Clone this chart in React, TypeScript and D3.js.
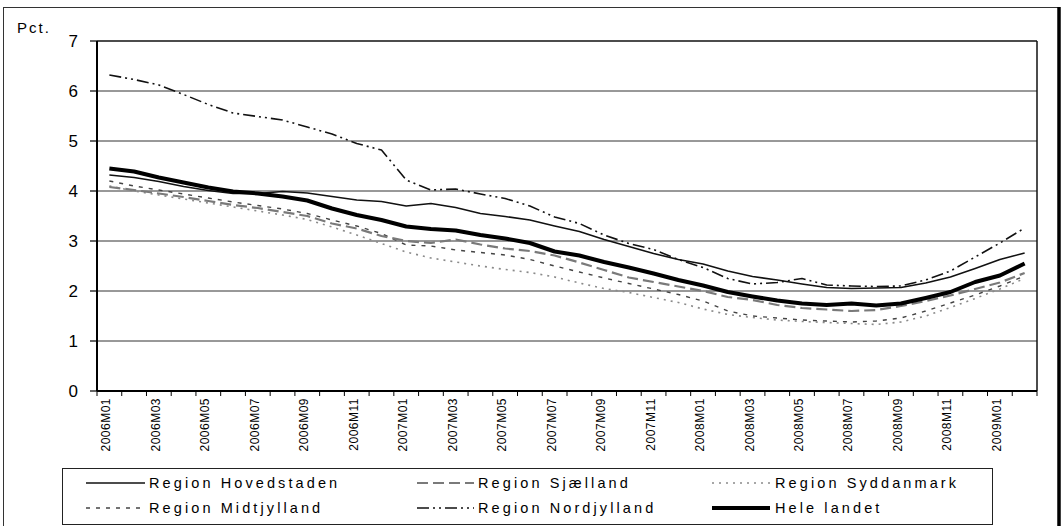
import * as d3 from "d3";

const WIDTH = 1064;
const HEIGHT = 526;
const PLOT = { left: 97, right: 1037, top: 41, bottom: 391 };

const MONTHS = [
  "2006M01", "2006M02", "2006M03", "2006M04", "2006M05", "2006M06",
  "2006M07", "2006M08", "2006M09", "2006M10", "2006M11", "2006M12",
  "2007M01", "2007M02", "2007M03", "2007M04", "2007M05", "2007M06",
  "2007M07", "2007M08", "2007M09", "2007M10", "2007M11", "2007M12",
  "2008M01", "2008M02", "2008M03", "2008M04", "2008M05", "2008M06",
  "2008M07", "2008M08", "2008M09", "2008M10", "2008M11", "2008M12",
  "2009M01", "2009M02",
];

const Y_TICKS = [0, 1, 2, 3, 4, 5, 6, 7];

const HOVEDSTADEN = [
  4.32, 4.27, 4.19, 4.09, 4.01, 3.95, 3.95, 3.99, 3.96, 3.89,
  3.82, 3.79, 3.70, 3.75, 3.67, 3.55, 3.49, 3.42, 3.30, 3.19,
  3.03, 2.89, 2.75, 2.63, 2.54, 2.40, 2.29, 2.22, 2.14, 2.07,
  2.05, 2.06, 2.07, 2.16, 2.28, 2.45, 2.63, 2.76,
];
const SJAELLAND = [
  4.08, 4.02, 3.95, 3.88, 3.80, 3.72, 3.66, 3.58, 3.50, 3.35,
  3.25, 3.10, 3.00, 2.96, 3.03, 2.93, 2.85, 2.80, 2.71, 2.57,
  2.42, 2.27, 2.18, 2.09, 2.00, 1.88, 1.82, 1.72, 1.66, 1.63,
  1.60, 1.62, 1.70, 1.80, 1.91, 2.04, 2.17, 2.36,
];
const SYDDANMARK = [
  4.10, 4.00, 3.92, 3.84, 3.76, 3.68, 3.60, 3.52, 3.43, 3.28,
  3.12, 2.95, 2.78, 2.66, 2.58, 2.50, 2.43, 2.37, 2.28, 2.16,
  2.05, 1.97, 1.87, 1.77, 1.64, 1.53, 1.47, 1.42, 1.39, 1.37,
  1.35, 1.33, 1.38, 1.50, 1.67, 1.85, 2.04, 2.25,
];
const MIDTJYLLAND = [
  4.20, 4.10, 4.02, 3.94, 3.86, 3.78, 3.71, 3.64, 3.55, 3.42,
  3.30, 3.15, 2.92, 2.90, 2.82, 2.77, 2.72, 2.63, 2.50, 2.38,
  2.26, 2.15, 2.04, 1.93, 1.80, 1.60, 1.50, 1.46, 1.42, 1.40,
  1.38, 1.40, 1.46, 1.60, 1.76, 1.92, 2.10, 2.30,
];
const NORDJYLLAND = [
  6.32, 6.23, 6.12, 5.93, 5.73, 5.56, 5.49, 5.42, 5.28, 5.14,
  4.95, 4.82, 4.22, 4.02, 4.04, 3.94, 3.85, 3.70, 3.48, 3.35,
  3.12, 2.95, 2.83, 2.63, 2.47, 2.25, 2.14, 2.17, 2.25, 2.12,
  2.10, 2.09, 2.10, 2.22, 2.40, 2.68, 2.96, 3.26,
];
const HELE_LANDET = [
  4.45, 4.39, 4.27, 4.17, 4.07, 3.99, 3.95, 3.89, 3.81, 3.65,
  3.52, 3.42, 3.29, 3.24, 3.21, 3.12, 3.05, 2.96, 2.79, 2.71,
  2.58, 2.47, 2.35, 2.22, 2.11, 1.98, 1.89, 1.81, 1.75, 1.72,
  1.75, 1.71, 1.75, 1.86, 1.98, 2.18, 2.31, 2.55,
];

type Style = { stroke: string; width: number; dash?: string };

const SERIES: { name: string; values: number[]; style: Style }[] = [
  { name: "Region Syddanmark", values: SYDDANMARK, style: { stroke: "#8a8a8a", width: 1.6, dash: "2,5" } },
  { name: "Region Midtjylland", values: MIDTJYLLAND, style: { stroke: "#444", width: 1.4, dash: "4,6" } },
  { name: "Region Sjælland", values: SJAELLAND, style: { stroke: "#7a7a7a", width: 2.2, dash: "11,5" } },
  { name: "Region Nordjylland", values: NORDJYLLAND, style: { stroke: "#111", width: 1.6, dash: "12,4,2,4,2,4" } },
  { name: "Region Hovedstaden", values: HOVEDSTADEN, style: { stroke: "#111", width: 1.6 } },
  { name: "Hele landet", values: HELE_LANDET, style: { stroke: "#000", width: 4 } },
];

// legend layout: [name, column, row]
const LEGEND_ORDER: [string, number, number][] = [
  ["Region Hovedstaden", 0, 0],
  ["Region Sjælland", 1, 0],
  ["Region Syddanmark", 2, 0],
  ["Region Midtjylland", 0, 1],
  ["Region Nordjylland", 1, 1],
  ["Hele landet", 2, 1],
];
const LEGEND_COLS = [
  { x1: 86, x2: 145, tx: 149 },
  { x1: 417, x2: 474, tx: 478 },
  { x1: 712, x2: 770, tx: 775 },
];
const LEGEND_ROWS = [483, 508];

const FONT = "'Liberation Sans', Arial, sans-serif";

export default function App() {
  const x = d3
    .scaleBand<string>()
    .domain(MONTHS)
    .range([PLOT.left, PLOT.right])
    .padding(0);
  const y = d3.scaleLinear().domain([0, 7]).range([PLOT.bottom, PLOT.top]);
  const cx = (m: string) => (x(m) ?? 0) + x.bandwidth() / 2;

  const line = d3
    .line<number>()
    .x((_, i) => cx(MONTHS[i]))
    .y((v) => y(v));

  const boundaries = MONTHS.map((m) => x(m) ?? 0).concat([PLOT.right]);

  return (
    <svg
      width={WIDTH}
      height={HEIGHT}
      style={{ position: "absolute", left: 0, top: 0, background: "#fff" }}
      fontFamily={FONT}
    >
      {/* outer frame */}
      <rect x={3.5} y={7.5} width={1055} height={540} fill="none" stroke="#333" strokeWidth={1} />
      <line x1={1059} x2={1059} y1={7} y2={HEIGHT} stroke="#000" strokeWidth={3.5} />

      <text x={17} y={33} fontSize={15} letterSpacing={2} fill="#000">
        Pct.
      </text>

      {/* gridlines */}
      {Y_TICKS.filter((t) => t > 0).map((t) => (
        <line
          key={t}
          x1={PLOT.left}
          x2={PLOT.right}
          y1={y(t)}
          y2={y(t)}
          stroke={t === 7 ? "#111" : "#333"}
          strokeWidth={t === 7 ? 1.6 : 1}
        />
      ))}
      <line x1={PLOT.right} x2={PLOT.right} y1={PLOT.top} y2={PLOT.bottom} stroke="#111" strokeWidth={1.5} />

      {/* y axis */}
      <line x1={PLOT.left} x2={PLOT.left} y1={PLOT.top} y2={PLOT.bottom} stroke="#000" strokeWidth={2} />
      {Y_TICKS.map((t) => (
        <g key={t}>
          <line x1={PLOT.left - 7} x2={PLOT.left} y1={y(t)} y2={y(t)} stroke="#000" strokeWidth={1.2} />
          <text
            x={78}
            y={y(t)}
            textAnchor="end"
            dominantBaseline="central"
            fontSize={17}
            fill="#000"
          >
            {t}
          </text>
        </g>
      ))}

      {/* x axis */}
      <line x1={PLOT.left} x2={PLOT.right} y1={PLOT.bottom} y2={PLOT.bottom} stroke="#000" strokeWidth={2} />
      {boundaries.map((b, i) => (
        <line key={i} x1={b} x2={b} y1={PLOT.bottom} y2={PLOT.bottom + 5} stroke="#000" strokeWidth={1} />
      ))}
      {MONTHS.map((m, i) =>
        i % 2 === 0 ? (
          <text
            key={m}
            transform={`translate(${cx(m) - 3},${PLOT.bottom + 7}) rotate(-90)`}
            textAnchor="end"
            dominantBaseline="central"
            fontSize={12}
            letterSpacing={0.5}
            fill="#000"
          >
            {m}
          </text>
        ) : null,
      )}

      {/* series */}
      {SERIES.map((s) => (
        <path
          key={s.name}
          d={line(s.values) ?? ""}
          fill="none"
          stroke={s.style.stroke}
          strokeWidth={s.style.width}
          strokeDasharray={s.style.dash}
          strokeLinejoin="round"
        />
      ))}

      {/* legend */}
      <rect x={62.5} y={468.5} width={930} height={56} fill="#fff" stroke="#222" strokeWidth={1} />
      {LEGEND_ORDER.map(([name, c, r]) => {
        const s = SERIES.find((d) => d.name === name)!;
        const col = LEGEND_COLS[c];
        const ly = LEGEND_ROWS[r];
        return (
          <g key={name}>
            <line
              x1={col.x1}
              x2={col.x2}
              y1={ly}
              y2={ly}
              stroke={s.style.stroke}
              strokeWidth={s.style.width}
              strokeDasharray={s.style.dash}
            />
            <text
              x={col.tx}
              y={ly}
              dominantBaseline="central"
              fontSize={14.5}
              letterSpacing={3.1}
              fill="#000"
            >
              {name}
            </text>
          </g>
        );
      })}
    </svg>
  );
}
